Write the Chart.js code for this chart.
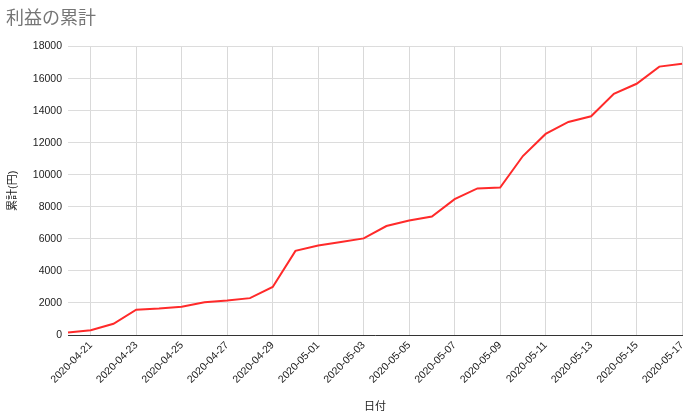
<!DOCTYPE html>
<html>
<head>
<meta charset="utf-8">
<script src="https://cdn.jsdelivr.net/npm/chart.js@4/dist/chart.umd.min.js"></script>
<style>
  html,body{margin:0;padding:0;background:#fff}
  #wrap{width:695px;height:416px;position:relative}
</style>
</head>
<body>
<div id="wrap"><canvas id="c"></canvas></div>
<script>
const dates = ['2020-04-20','2020-04-21','2020-04-22','2020-04-23','2020-04-24','2020-04-25','2020-04-26',
  '2020-04-27','2020-04-28','2020-04-29','2020-04-30','2020-05-01','2020-05-02','2020-05-03',
  '2020-05-04','2020-05-05','2020-05-06','2020-05-07','2020-05-08','2020-05-09','2020-05-10',
  '2020-05-11','2020-05-12','2020-05-13','2020-05-14','2020-05-15','2020-05-16','2020-05-17'];
const cumulative = [150,300,700,1580,1650,1770,2050,2150,2300,3000,5250,5580,5800,6030,
  6800,7150,7400,8480,9150,9200,11170,12550,13300,13650,15050,15680,16750,16930];
const yTicks = [0,2000,4000,6000,8000,10000,12000,14000,16000,18000];

const FONT = '"Liberation Sans", Arial, "Noto Sans CJK JP", sans-serif';

new Chart(document.getElementById('c'), {
  type: 'line',
  data: {
    labels: dates,
    datasets: [{
      label: '累計(円)',
      data: cumulative,
      borderColor: '#ff2a2a',
      borderWidth: 2,
      pointRadius: 0,
      tension: 0,
      fill: false
    }]
  },
  options: {
    responsive: true,
    maintainAspectRatio: false,
    animation: false,
    layout: {padding: {left: 6, right: 9, top: 6, bottom: 0}},
    plugins: {
      legend: {display: false},
      tooltip: {enabled: false},
      title: {
        display: true,
        text: '利益の累計',
        align: 'start',
        color: '#757575',
        font: {family: FONT, size: 18, weight: 'normal'},
        padding: {top: 2, bottom: 17}
      }
    },
    scales: {
      x: {
        offset: false,
        grid: {color: '#d9d9d9', drawTicks: false},
        border: {display: true, color: '#333', width: 1},
        ticks: {
          autoSkip: false,
          minRotation: 45,
          maxRotation: 45,
          color: '#222',
          padding: 4,
          font: {family: FONT, size: 10.5},
          callback: function(v, i){ return i % 2 === 1 ? dates[i] : null; }
        },
        title: {
          display: true,
          text: '日付',
          color: '#222',
          font: {family: FONT, size: 11},
          padding: {top: 0, bottom: 2}
        },
        afterFit: function(s){ s.height = 81; }
      },
      y: {
        min: 0,
        max: 18000,
        afterBuildTicks: function(s){ s.ticks = yTicks.map(v => ({value: v})); },
        grid: {color: '#dcdcdc', drawTicks: false},
        border: {display: false},
        ticks: {
          color: '#222',
          padding: 6,
          font: {family: FONT, size: 10.5},
          callback: function(v){ return String(v); }
        },
        title: {
          display: true,
          text: '累計(円)',
          color: '#222',
          font: {family: FONT, size: 11},
          padding: {top: 0, bottom: 4}
        },
        afterFit: function(s){ s.width = 62; }
      }
    }
  }
});
</script>
</body>
</html>
